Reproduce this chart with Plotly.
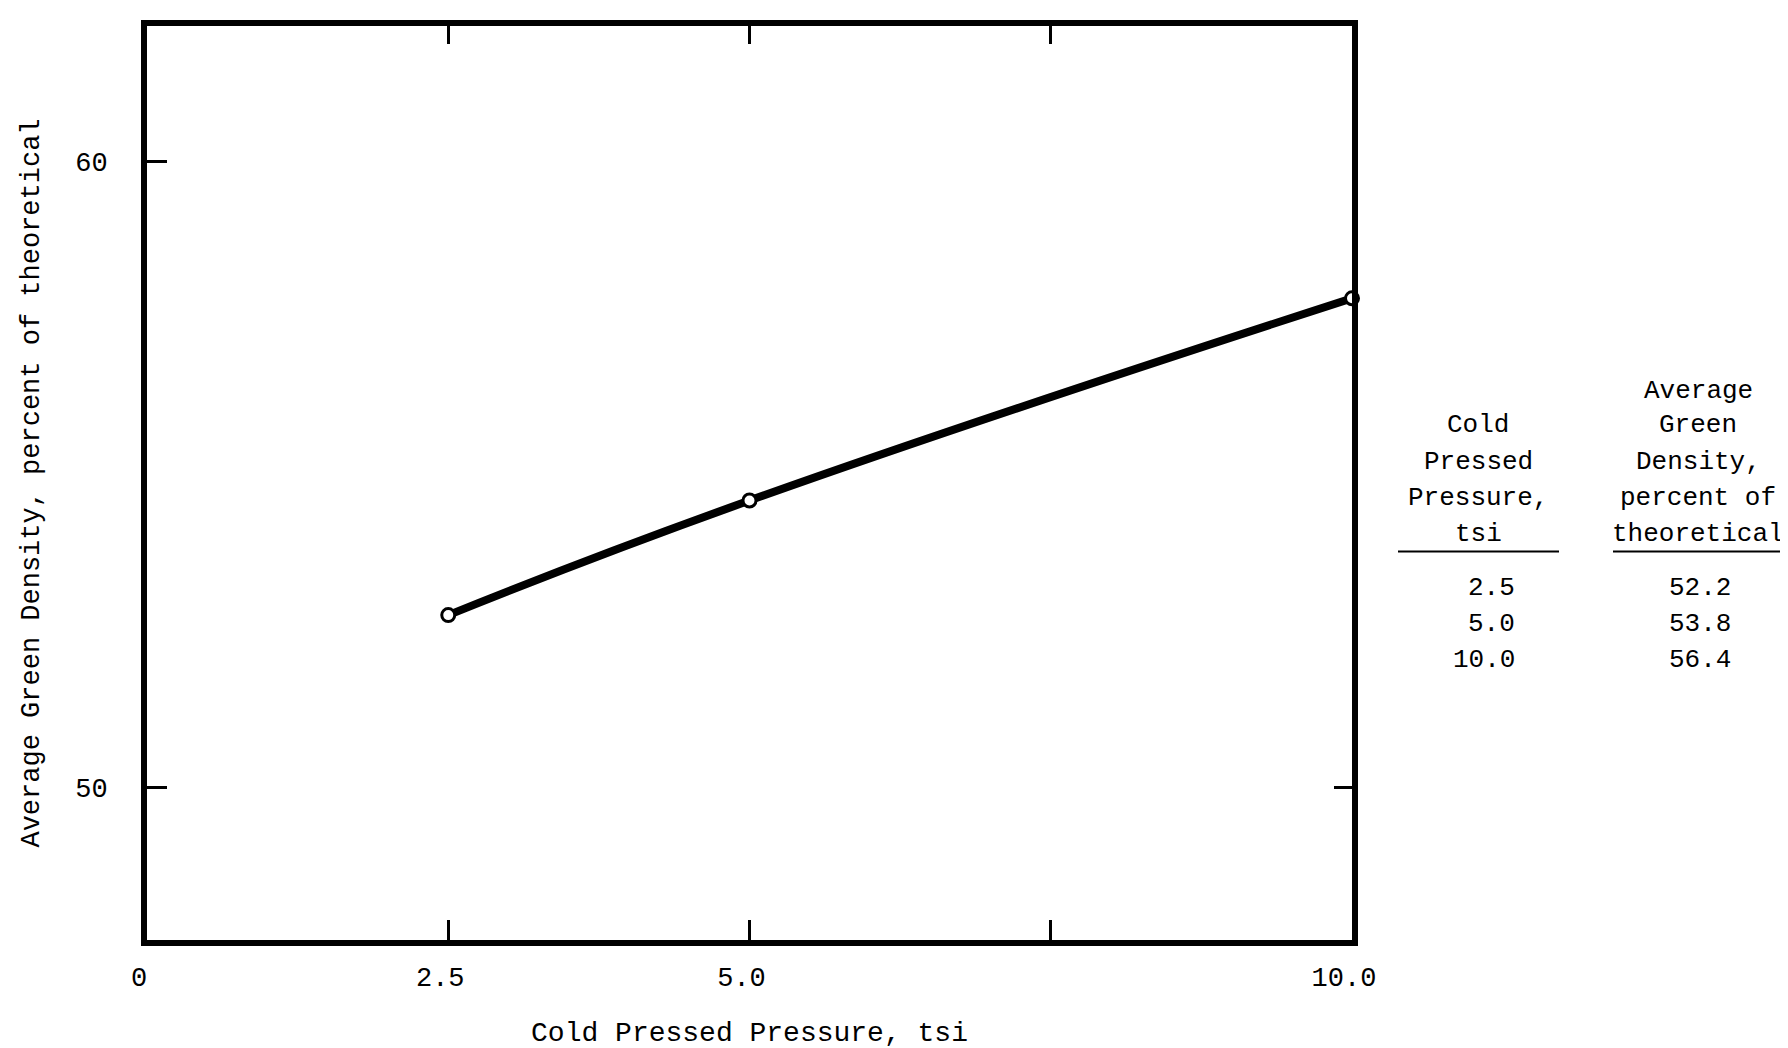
import plotly.graph_objects as go

# Data
pressure = [2.5, 5.0, 10.0]
density_plotted = [52.75, 54.58, 57.81]

# Table values (as printed)
table_pressure = ["2.5", "5.0", "10.0"]
table_density = ["52.2", "53.8", "56.4"]

x_tickvals = [0, 2.5, 5.0, 7.5, 10.0]
x_ticktext = ["0", "2.5", "5.0", "", "10.0"]
y_tickvals = [50, 60]
y_ticktext = ["50", "60"]

XR = [0, 10]
YR = [47.56, 62.16]

W, H = 1788, 1048
ML, MR, MT, MB = 139, 444, 15, 106
PW, PH = W - ML - MR, H - MT - MB

FONT = "Liberation Mono"
FS = 27
TFS = 26
fig = go.Figure()

fig.add_trace(go.Scatter(
    x=pressure, y=density_plotted, mode="lines+markers",
    line=dict(color="black", width=8, shape="spline", smoothing=1.3),
    marker=dict(symbol="circle", size=13, color="white",
                line=dict(color="black", width=3)),
    cliponaxis=False, showlegend=False, hoverinfo="x+y"))

# invisible trace for secondary (tick-mirror) axes
fig.add_trace(go.Scatter(x=[XR[0]], y=[YR[0]], xaxis="x2", yaxis="y2",
                         mode="markers", marker=dict(opacity=0),
                         showlegend=False, hoverinfo="skip"))

fig.update_layout(
    width=W, height=H,
    paper_bgcolor="white", plot_bgcolor="white",
    margin=dict(l=ML, r=MR, t=MT, b=MB),
    font=dict(family=FONT, color="black", size=FS),
    xaxis=dict(range=XR, tickvals=x_tickvals, ticktext=x_ticktext,
               ticks="inside", ticklen=20, tickwidth=3, tickcolor="black",
               showline=True, linewidth=6, linecolor="black", mirror=True,
               showgrid=False, zeroline=False, ticklabelstandoff=8,
               ticklabelshift=-8,
               tickfont=dict(family=FONT, size=FS),
               title=dict(text="Cold Pressed Pressure, tsi", standoff=30,
                          font=dict(family=FONT, size=28))),
    yaxis=dict(range=YR, tickvals=y_tickvals, ticktext=y_ticktext,
               ticks="inside", ticklen=20, tickwidth=3, tickcolor="black",
               showline=True, linewidth=6, linecolor="black", mirror=True,
               showgrid=False, zeroline=False, ticklabelstandoff=28,
               tickfont=dict(family=FONT, size=FS),
               title=dict(text="Average Green Density, percent of theoretical",
                          standoff=30, font=dict(family=FONT, size=27))),
    xaxis2=dict(range=XR, overlaying="x", side="top", tickvals=[2.5, 5.0, 7.5],
                ticks="inside", ticklen=18, tickwidth=3, tickcolor="black",
                showticklabels=False, showgrid=False, zeroline=False, showline=False),
    yaxis2=dict(range=YR, overlaying="y", side="right", tickvals=[50],
                ticks="inside", ticklen=18, tickwidth=3, tickcolor="black",
                showticklabels=False, showgrid=False, zeroline=False, showline=False),
)


def px_x(px):
    return (px - ML) / PW


def px_y(py):
    return (H - MB - py) / PH


col1_x = 1470
col2_x = 1690
head1 = ["Cold", "Pressed", "Pressure,", "tsi"]
head2 = ["Average", "Green", "Density,", "percent of", "theoretical"]
head1_y = [420, 457, 494, 530]
head2_y = [385, 420, 457, 494, 530]
for t, y in zip(head1, head1_y):
    fig.add_annotation(x=px_x(col1_x), y=px_y(y), xref="paper", yref="paper",
                       text=t, showarrow=False, xanchor="center", yanchor="middle",
                       borderpad=0, font=dict(family=FONT, size=TFS))
for t, y in zip(head2, head2_y):
    fig.add_annotation(x=px_x(col2_x), y=px_y(y), xref="paper", yref="paper",
                       text=t, showarrow=False, xanchor="center", yanchor="middle",
                       borderpad=0, font=dict(family=FONT, size=TFS))

row_y = [585, 622, 658]
for p, d, y in zip(table_pressure, table_density, row_y):
    fig.add_annotation(x=px_x(1508), y=px_y(y), xref="paper", yref="paper",
                       text=p, showarrow=False, xanchor="right", yanchor="middle",
                       borderpad=0, font=dict(family=FONT, size=TFS))
    fig.add_annotation(x=px_x(1724), y=px_y(y), xref="paper", yref="paper",
                       text=d, showarrow=False, xanchor="right", yanchor="middle",
                       borderpad=0, font=dict(family=FONT, size=TFS))

for x0, x1 in [(1390, 1551), (1605, 1785)]:
    fig.add_shape(type="line", xref="paper", yref="paper",
                  x0=px_x(x0), x1=px_x(x1), y0=px_y(548), y1=px_y(548),
                  line=dict(color="black", width=2))

fig.write_html("out.html")
